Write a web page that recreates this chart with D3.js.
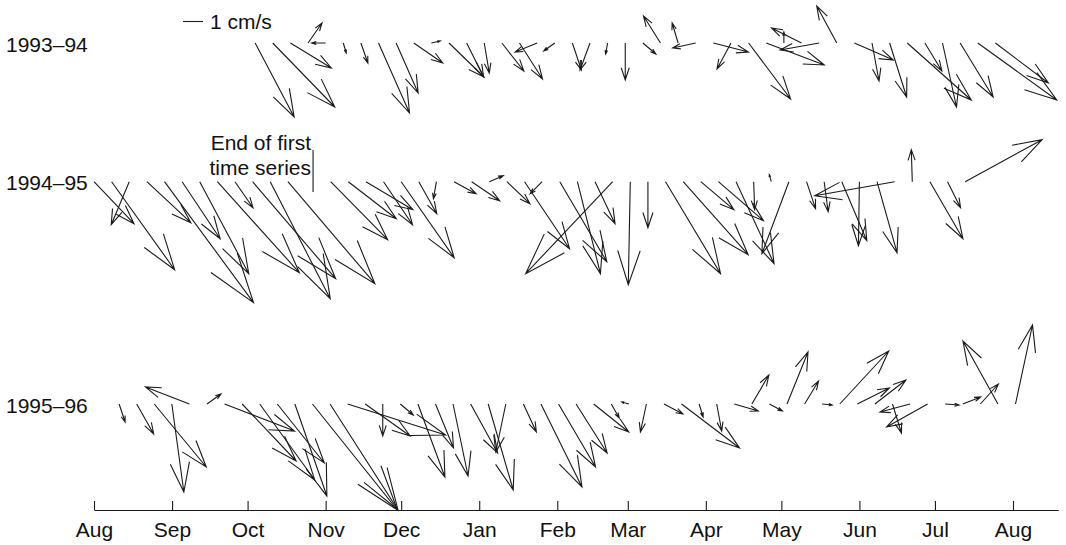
<!DOCTYPE html>
<html>
<head>
<meta charset="utf-8">
<script src="https://cdn.jsdelivr.net/npm/d3@7"></script>
<style>
  body { margin: 0; background: #fff; }
  text { font-family: "Liberation Sans", Arial, Helvetica, sans-serif; font-size: 21px; fill: #111; }
</style>
</head>
<body>
<svg id="chart" width="1066" height="545"></svg>
<script>

// weekly current vectors, u = east, v = north, cm/s
var seasons = ["1993\u201394", "1994\u201395", "1995\u201396"];
var seasonYears = [1993, 1994, 1995];
var monthLabels = ["Aug","Sep","Oct","Nov","Dec","Jan","Feb","Mar","Apr","May","Jun","Jul","Aug"];

var u9394 = [1.95,3.10,2.05,0.70,-0.70,0.15,0.35,1.55,1.10,1.45,0.45,1.75,0.85,0.25,1.10,1.15,-1.10,-0.55,0.45,-0.50,
             -0.10,0.00,0.65,-0.85,-0.30,-1.15,1.75,-0.70,2.10,2.90,0.00,-1.50,-1.95,-1.00,1.95,0.35,0.85,3.20,0.85,0.70,
             1.65,3.95,2.65];
var v9394 = [-3.70,-3.20,-1.25,1.00,0.00,-0.50,-1.00,-3.50,-2.50,-1.00,0.10,-1.70,-1.70,-1.50,-1.40,-1.80,-0.45,-0.40,-1.35,-1.35,
             -0.55,-1.85,-0.55,1.35,1.00,-0.25,-0.45,-1.30,-2.80,-1.10,0.55,0.75,-0.35,1.85,-0.85,-1.90,-2.70,-2.85,-1.40,-3.20,
             -2.70,-2.85,-2.00];

// 1994-95, first time series
var u9495a = [2.00,3.15,-0.90,2.20,4.45,1.90,2.45,4.10,0.90,4.15,3.00,4.35];
var v9495a = [-2.10,-4.40,-2.15,-2.05,-6.05,-2.85,-4.60,-4.55,-1.30,-4.85,-5.85,-5.10];

// 1994-95, second time series
var u9495b = [2.85,2.40,2.35,1.45,2.65,0.90,-0.15,1.10,1.40,0.70,1.15,2.25,-0.60,2.35,1.15,1.00,-4.35,-0.10,0.00,2.75,
              3.25,1.65,2.25,1.90,0.05,-0.10,-1.35,0.45,0.20,1.25,-0.05,1.00,-4.00,-0.05,1.65,0.65,3.85];
var v9495b = [-2.90,-1.85,-1.40,-2.15,-3.80,-1.60,-0.85,-0.60,-0.95,0.30,-1.10,-3.35,-0.60,-4.00,-4.60,-2.10,-4.60,-5.15,-2.30,-4.60,
              -3.65,-1.40,-1.95,-4.10,-1.40,0.35,-3.60,-1.35,-1.50,-2.95,-3.20,-3.55,-0.70,1.60,-2.85,-1.30,2.10];

var u9596 = [0.30,0.85,2.60,0.60,-2.20,0.70,3.50,2.70,2.75,2.35,1.60,4.25,3.40,4.90,2.25,0.00,0.65,1.35,0.90,0.75,
             1.35,1.25,-0.50,0.65,2.05,1.85,1.55,1.75,0.40,-0.35,-0.30,0.95,2.90,0.20,0.25,1.20,0.85,0.65,1.05,0.70,
             0.50,2.45,1.60,1.55,0.45,-1.50,-2.05,0.70,0.90,0.90,-1.75,0.85];
var v9596 = [-0.90,-1.50,-3.15,-4.40,0.85,0.50,-1.35,-2.85,-3.80,-2.95,-4.60,-5.30,-5.30,-1.55,-1.60,-1.60,-0.55,-3.65,-2.20,-3.60,
             -2.45,-4.30,-2.40,-1.40,-4.15,-3.15,-2.45,-1.40,-0.70,0.10,-1.40,-0.50,-2.20,-0.65,-1.35,-0.35,1.45,-0.35,2.60,1.15,
             -0.05,2.65,0.80,1.20,-1.45,-0.40,-1.15,-0.05,0.35,1.00,3.15,3.95];

var segments = [
  {row: 0, start: "1993-10-04", u: u9394, v: v9394},
  {row: 1, start: "1994-08-01", u: u9495a, v: v9495a},
  {row: 1, start: "1994-11-03", u: u9495b, v: v9495b},
  {row: 2, start: "1995-08-11", u: u9596, v: v9596}
];
var endOfFirst = "1994-10-27";

var svg = d3.select("#chart");
var left = 94, yearRight = 1013, axisY = 510;
var rowY = [43, 181.7, 404];
var K = 20; // px per cm/s

var parseDay = d3.utcParse("%Y-%m-%d");

function seasonScale(y) {
  return d3.scaleUtc()
    .domain([new Date(Date.UTC(y, 7, 1)), new Date(Date.UTC(y + 1, 7, 1))])
    .range([left, yearRight]);
}

function arrowPath(x0, y0, dx, dy) {
  var a = 0.33, b = 0.33;
  var tx = x0 + dx, ty = y0 + dy;
  var b1 = [tx - a * (dx + b * dy), ty - a * (dy - b * dx)];
  var b2 = [tx - a * (dx - b * dy), ty - a * (dy + b * dx)];
  return "M" + x0 + "," + y0 + "L" + tx + "," + ty +
         "M" + b1[0] + "," + b1[1] + "L" + tx + "," + ty + "L" + b2[0] + "," + b2[1];
}

var g = svg.append("g");

segments.forEach(function(s) {
  var x = seasonScale(seasonYears[s.row]);
  var t0 = parseDay(s.start);
  var data = s.u.map(function(d, i) {
    return {date: d3.utcDay.offset(t0, 7 * i), u: d, v: s.v[i]};
  });
  g.selectAll(null)
    .data(data)
    .enter().append("path")
      .attr("class", "vec")
      .attr("fill", "none")
      .attr("stroke", "#1a1a1a")
      .attr("stroke-width", 1.1)
      .attr("d", function(d) { return arrowPath(x(d.date), rowY[s.row], d.u * K, -d.v * K); });
});

// row labels
svg.selectAll(".season")
  .data(seasons)
  .enter().append("text")
    .attr("class", "season")
    .attr("x", 6)
    .attr("y", function(d, i) { return rowY[i] + 8.5; })
    .text(function(d) { return d; });

// scale legend
svg.append("line")
  .attr("x1", 183).attr("x2", 183 + K)
  .attr("y1", 21.5).attr("y2", 21.5)
  .attr("stroke", "#1a1a1a").attr("stroke-width", 1.1);
svg.append("text")
  .attr("x", 210).attr("y", 29)
  .text("1 cm/s");

// end of first time series marker
var xm = seasonScale(1994)(parseDay(endOfFirst));
svg.append("line")
  .attr("x1", xm).attr("x2", xm)
  .attr("y1", 150).attr("y2", 192)
  .attr("stroke", "#1a1a1a").attr("stroke-width", 1.1);
svg.append("text")
  .attr("x", xm - 2).attr("y", 149.5)
  .attr("text-anchor", "end")
  .text("End of first");
svg.append("text")
  .attr("x", xm - 2).attr("y", 175)
  .attr("text-anchor", "end")
  .text("time series");

// month axis
var x0 = seasonScale(1993);
var axisEnd = new Date(Date.UTC(1994, 7, 19));
var xAxisScale = d3.scaleUtc()
  .domain([x0.domain()[0], axisEnd])
  .range([left, x0(axisEnd)]);

var months = d3.utcMonth.range(x0.domain()[0], d3.utcDay.offset(x0.domain()[1], 1));

var xAxis = d3.axisBottom(xAxisScale)
  .tickValues(months)
  .tickFormat(function(d, i) { return monthLabels[i]; })
  .tickSizeInner(-9)
  .tickSizeOuter(0)
  .tickPadding(12);

var ax = svg.append("g")
  .attr("class", "Xaxis")
  .attr("transform", "translate(0," + axisY + ")")
  .style("color", "#1a1a1a")
  .call(xAxis);
ax.selectAll("text").style("font-size", "21px").style("font-family", "Liberation Sans, Arial, sans-serif").attr("fill", "#111");
ax.selectAll("line, path").attr("stroke-width", 1.1);

</script>
</body>
</html>
